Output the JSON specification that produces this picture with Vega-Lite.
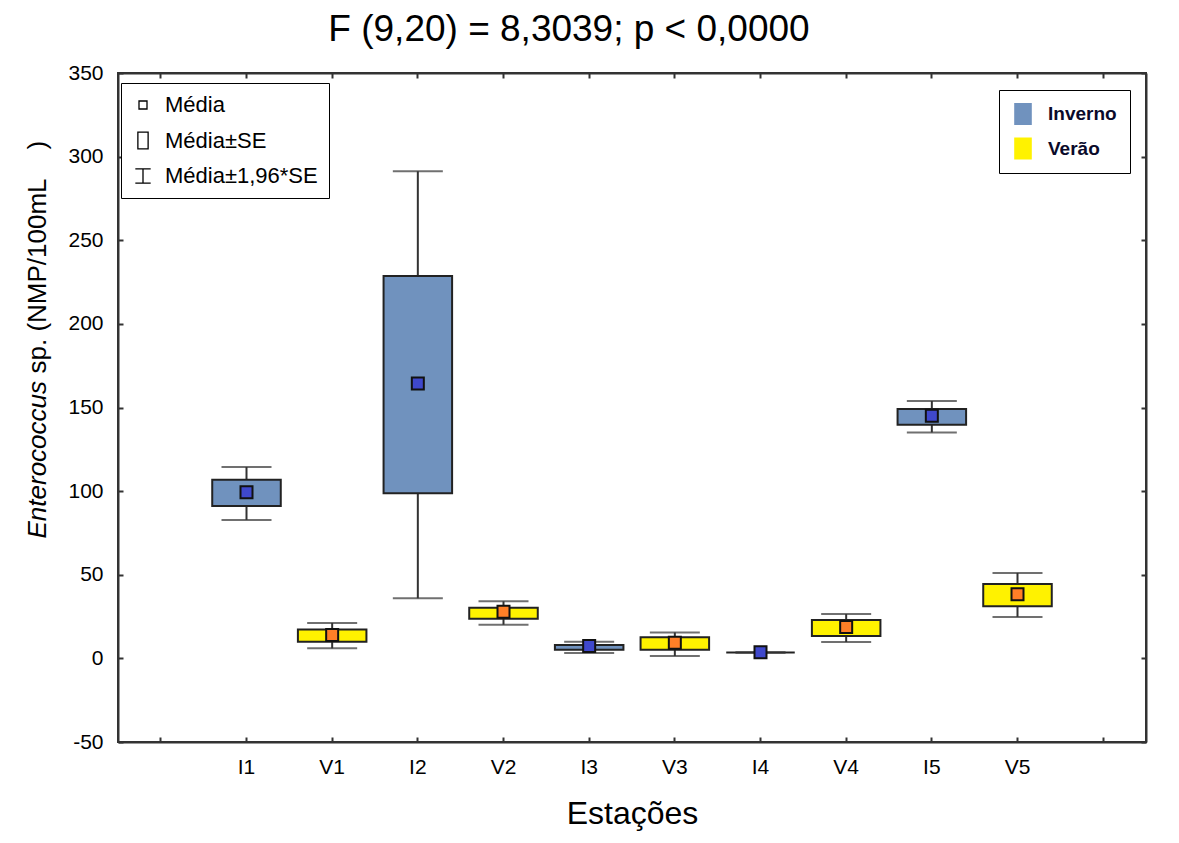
{
  "$schema": "https://vega.github.io/schema/vega-lite/v6.json",
  "width": 1028,
  "height": 669,
  "autosize": "none",
  "padding": {"left": 118, "top": 73, "right": 33, "bottom": 101},
  "background": "white",
  "title": {
    "text": "F (9,20) = 8,3039; p < 0,0000",
    "font": "Liberation Sans",
    "fontSize": 37,
    "fontWeight": "normal",
    "color": "black",
    "anchor": "middle",
    "frame": "group",
    "dx": -63,
    "dy": 43,
    "baseline": "alphabetic",
    "offset": 27
  },
  "config": {
    "view": {"stroke": "#333", "strokeWidth": 2},
    "axis": {
      "labelFont": "Liberation Sans",
      "labelFontSize": 21,
      "labelColor": "black",
      "tickColor": "#333",
      "tickSize": -5,
      "tickWidth": 2,
      "domainColor": "#333",
      "domainWidth": 2,
      "grid": false,
      "titleFont": "Liberation Sans",
      "titleColor": "black",
      "titleFontWeight": "normal"
    }
  },
  "data": {
    "values": [
      {"station": "I1", "season": "Inverno", "mean": 99.3, "se_lo": 91.1, "se_hi": 106.8, "ci_lo": 82.8, "ci_hi": 114.4},
      {"station": "V1", "season": "Verão", "mean": 14.0, "se_lo": 10.0, "se_hi": 17.2, "ci_lo": 6.0, "ci_hi": 21.2},
      {"station": "I2", "season": "Inverno", "mean": 164.4, "se_lo": 98.7, "se_hi": 228.6, "ci_lo": 35.9, "ci_hi": 291.2},
      {"station": "V2", "season": "Verão", "mean": 27.9, "se_lo": 23.7, "se_hi": 30.3, "ci_lo": 20.1, "ci_hi": 34.1},
      {"station": "I3", "season": "Inverno", "mean": 7.4, "se_lo": 5.2, "se_hi": 8.0, "ci_lo": 3.2, "ci_hi": 10.0},
      {"station": "V3", "season": "Verão", "mean": 9.4, "se_lo": 5.2, "se_hi": 12.6, "ci_lo": 1.4, "ci_hi": 15.5},
      {"station": "I4", "season": "Inverno", "mean": 3.7, "se_lo": 3.5, "se_hi": 3.5, "ci_lo": 3.5, "ci_hi": 3.5},
      {"station": "V4", "season": "Verão", "mean": 18.8, "se_lo": 13.4, "se_hi": 23.0, "ci_lo": 9.8, "ci_hi": 26.5},
      {"station": "I5", "season": "Inverno", "mean": 145.1, "se_lo": 139.7, "se_hi": 149.1, "ci_lo": 135.1, "ci_hi": 153.9},
      {"station": "V5", "season": "Verão", "mean": 38.3, "se_lo": 31.1, "se_hi": 44.5, "ci_lo": 24.8, "ci_hi": 51.1}
    ]
  },
  "layer": [
    {
      "mark": {"type": "rule", "color": "#333", "strokeWidth": 2},
      "encoding": {
        "x": {
          "field": "station",
          "type": "nominal",
          "sort": null,
          "scale": {"type": "band", "domain": ["L", "I1", "V1", "I2", "V2", "I3", "V3", "I4", "V4", "I5", "V5", "R"], "paddingInner": 0, "paddingOuter": 0},
          "axis": {
            "orient": "bottom",
            "labelAngle": 0,
            "labelPadding": 19,
            "labelExpr": "(datum.value == 'L' || datum.value == 'R') ? '' : datum.label",
            "title": "Estações",
            "titleFontSize": 32,
            "titleBaseline": "alphabetic",
            "titleY": 81
          }
        },
        "y": {
          "field": "ci_lo",
          "type": "quantitative",
          "scale": {"domain": [-50, 350], "nice": false, "zero": false},
          "axis": {
            "orient": "left",
            "values": [-50, 0, 50, 100, 150, 200, 250, 300, 350],
            "labelExpr": "'' + datum.value",
            "labelPadding": 20,
            "title": "Enterococcus",
            "titleFontStyle": "italic",
            "titleFontSize": 26,
            "titleAngle": 270,
            "titleAlign": "left",
            "titleBaseline": "alphabetic",
            "titleX": -73,
            "titleY": 465
          }
        },
        "y2": {"field": "ci_hi"}
      }
    },
    {
      "mark": {"type": "bar", "width": {"band": 0.8}, "stroke": "#222", "strokeWidth": 2},
      "encoding": {
        "x": {"field": "station", "type": "nominal", "sort": null, "axis": null},
        "y": {"field": "se_lo", "type": "quantitative", "axis": null},
        "y2": {"field": "se_hi"},
        "fill": {
          "field": "season",
          "type": "nominal",
          "scale": {"domain": ["Inverno", "Verão"], "range": ["#7092be", "#fff200"]},
          "legend": {
            "orient": "none",
            "legendX": 881,
            "legendY": 17,
            "title": null,
            "symbolType": "M-0.8,-1H0.8V1H-0.8Z",
            "symbolSize": 484,
            "symbolStrokeWidth": 0,
            "symbolOpacity": 1,
            "labelFont": "Liberation Sans",
            "labelFontSize": 19,
            "labelFontWeight": "bold",
            "labelColor": "#0a0a2a",
            "labelOffset": 14,
            "rowPadding": 12.5,
            "padding": 13,
            "strokeColor": "black",
            "fillColor": "white",
            "encode": {
              "symbols": {"update": {"size": {"value": 484}, "strokeWidth": {"value": 0}, "shape": {"value": "M-0.8,-1H0.8V1H-0.8Z"}}}
            }
          }
        }
      }
    },
    {
      "mark": {"type": "tick", "size": 50, "thickness": 2, "color": "#333"},
      "encoding": {
        "x": {"field": "station", "type": "nominal", "sort": null, "axis": null},
        "y": {"field": "ci_hi", "type": "quantitative", "axis": null}
      }
    },
    {
      "mark": {"type": "tick", "size": 50, "thickness": 2, "color": "#333"},
      "encoding": {
        "x": {"field": "station", "type": "nominal", "sort": null, "axis": null},
        "y": {"field": "ci_lo", "type": "quantitative", "axis": null}
      }
    },
    {
      "mark": {"type": "point", "filled": true, "size": 576, "stroke": "#111", "strokeWidth": 2, "opacity": 1},
      "encoding": {
        "x": {"field": "station", "type": "nominal", "sort": null, "axis": null},
        "y": {"field": "mean", "type": "quantitative", "axis": null},
        "fill": {
          "field": "season",
          "type": "nominal",
          "scale": {"domain": ["Inverno", "Verão"], "range": ["#3f48cc", "#ff7f27"]},
          "legend": null
        },
        "shape": {
          "datum": "Média",
          "type": "nominal",
          "scale": {
            "domain": ["Média", "Média±SE", "Média±1,96*SE"],
            "range": [
              "M-0.5,-0.5H0.5V0.5H-0.5Z",
              "M-0.64,-1.04H0.64V1.04H-0.64Z",
              "M-0.96,-0.88H0.96M0,-0.88V0.88M-0.96,0.88H0.96"
            ]
          },
          "legend": {
            "orient": "none",
            "legendX": 3,
            "legendY": 10,
            "title": null,
            "symbolSize": 256,
            "symbolFillColor": "transparent",
            "symbolStrokeColor": "black",
            "symbolStrokeWidth": 1.3,
            "symbolOpacity": 1,
            "labelFont": "Liberation Sans",
            "labelFontSize": 22,
            "labelColor": "black",
            "labelOffset": 11,
            "labelLimit": 400,
            "labelExpr": "datum.label + '\u00a0\u00a0\u00a0\u00a0\u00a0'",
            "rowPadding": 13.5,
            "padding": 11,
            "strokeColor": "black",
            "fillColor": "white",
            "encode": {
              "symbols": {"update": {"size": {"value": 256}, "fill": {"value": "transparent"}, "stroke": {"value": "black"}, "strokeWidth": {"value": 1.3}}}
            }
          }
        }
      }
    },
    {
      "mark": {"type": "point", "opacity": 0},
      "encoding": {
        "x": {
          "field": "station",
          "type": "nominal",
          "sort": null,
          "axis": {"orient": "top", "labels": false, "title": null}
        },
        "y": {
          "field": "mean",
          "type": "quantitative",
          "axis": {
            "orient": "right",
            "labels": false,
            "values": [-50, 0, 50, 100, 150, 200, 250, 300, 350],
            "title": "sp. (NMP/100mL\u00a0\u00a0\u00a0\u00a0)",
            "titleFontSize": 26,
            "titleAngle": 270,
            "titleAlign": "left",
            "titleBaseline": "alphabetic",
            "titleX": -1101,
            "titleY": 300
          }
        }
      }
    }
  ],
  "resolve": {
    "scale": {"fill": "independent"},
    "axis": {"x": "independent", "y": "independent"}
  }
}
